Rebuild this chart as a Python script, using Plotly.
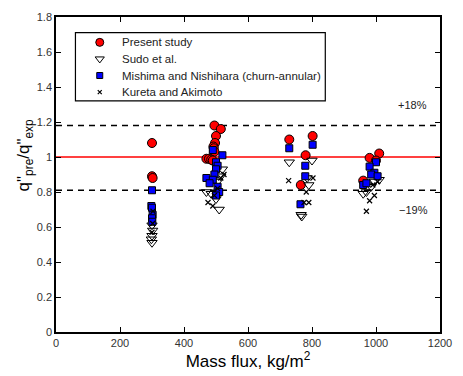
import plotly.graph_objects as go

# Ratio of predicted to experimental CHF versus mass flux, four data sources
present_x = [300, 300, 302, 495, 515, 500, 497, 492, 493, 495, 470, 478, 485, 490,
             729, 802, 780, 765, 1010, 980, 1000, 960]
present_y = [1.08, 0.89, 0.88, 1.18, 1.16, 1.12, 1.08, 1.06, 1.05, 1.03, 0.99, 0.99, 0.985, 0.98,
             1.10, 1.12, 1.01, 0.84, 1.02, 0.995, 0.98, 0.865]

sudo_x = [300, 302, 300, 298, 300, 520, 515, 505, 470, 485, 500, 510,
          729, 800, 785, 790, 766, 768, 1010, 995, 985, 970, 960]
sudo_y = [0.61, 0.58, 0.55, 0.53, 0.51, 0.93, 0.89, 0.86, 0.80, 0.79, 0.76, 0.70,
          0.97, 0.98, 0.88, 0.84, 0.67, 0.66, 0.87, 0.86, 0.83, 0.80, 0.79]

mishima_x = [300, 298, 300, 302, 300, 301, 490, 520, 500, 505, 500, 495, 470, 490, 480, 505, 510, 500,
             729, 802, 779, 779, 764, 1000, 980, 995, 985, 1005, 960, 970]
mishima_y = [0.81, 0.72, 0.71, 0.67, 0.65, 0.63, 1.04, 1.01, 0.97, 0.95, 0.93, 0.90, 0.88, 0.87, 0.85, 0.83, 0.80, 0.78,
             1.05, 1.07, 0.95, 0.89, 0.73, 0.97, 0.945, 0.91, 0.90, 0.89, 0.84, 0.85]

kureta_x = [303, 302, 300, 525, 515, 505, 495, 475, 490,
            727, 803, 782, 790, 775, 1005, 990, 995, 980, 970]
kureta_y = [0.69, 0.62, 0.57, 0.90, 0.88, 0.82, 0.78, 0.74, 0.72,
            0.865, 0.88, 0.80, 0.74, 0.74, 0.86, 0.84, 0.78, 0.75, 0.69]

series_names = ["Present study", "Sudo et al.",
                "Mishima and Nishihara (churn-annular)", "Kureta and Akimoto"]

upper_band = 1.18
lower_band = 0.81
band_labels = ["+18%", "\u221219%"]
band_label_x = [1115, 1118]
band_label_y = [1.30, 0.70]

x_ticks = [0, 200, 400, 600, 800, 1000, 1200]
y_ticks = [0, 0.2, 0.4, 0.6, 0.8, 1.0, 1.2, 1.4, 1.6, 1.8]
y_tick_text = ["0", "0.2", "0.4", "0.6", "0.8", "1", "1.2", "1.4", "1.6", "1.8"]

FONT = "Liberation Sans, Arial, sans-serif"

styles = [
    dict(symbol="circle", size=9, color="#ff0000", line=dict(color="black", width=1)),
    dict(symbol="triangle-down-open", size=9, color="black", line=dict(width=1)),
    dict(symbol="square", size=7, color="#0000ff", line=dict(color="black", width=1)),
    dict(symbol="x-thin", size=5, color="black", line=dict(color="black", width=1.2)),
]

fig = go.Figure()

# Reference lines: perfect agreement and band limits
fig.add_trace(go.Scatter(x=[0, 1200], y=[1.0, 1.0], mode="lines",
                         line=dict(color="#ff0000", width=1.5), showlegend=False, hoverinfo="skip"))
for yb in (upper_band, lower_band):
    fig.add_trace(go.Scatter(x=[0, 1200], y=[yb, yb], mode="lines",
                             line=dict(color="black", width=1.5, dash="6px,5px"),
                             showlegend=False, hoverinfo="skip"))

for (xs, ys), name, st in zip([(present_x, present_y), (sudo_x, sudo_y),
                               (mishima_x, mishima_y), (kureta_x, kureta_y)],
                              series_names, styles):
    fig.add_trace(go.Scatter(x=xs, y=ys, mode="markers", name=name, marker=st,
                             showlegend=False))

for t, xx, yy in zip(band_labels, band_label_x, band_label_y):
    fig.add_annotation(x=xx, y=yy, text=t, showarrow=False,
                       font=dict(family=FONT, size=11, color="#222"))

# Legend box drawn on a pixel-scaled overlay axis
LX0, LX1, LY0, LY1 = 76, 333, 27, 97
KEY_X, TEXT_X = 101, 122
ROW_Y = [37, 54, 71, 88]
fig.add_shape(type="rect", xref="x2", yref="y2", x0=LX0, x1=LX1, y0=LY0, y1=LY1,
              line=dict(color="black", width=1.2), fillcolor="white", layer="below")
for name, st, ry in zip(series_names, styles, ROW_Y):
    key = dict(st)
    key["size"] = key["size"] - 1
    fig.add_trace(go.Scatter(x=[KEY_X], y=[ry], xaxis="x2", yaxis="y2", mode="markers",
                             marker=key, showlegend=False, hoverinfo="skip"))
    fig.add_annotation(xref="x2", yref="y2", x=TEXT_X, y=ry, text=name, showarrow=False,
                       xanchor="left", yanchor="middle",
                       font=dict(family=FONT, size=11.5, color="#222"))

# Y-axis title with subscripts
fig.add_annotation(xref="paper", yref="paper", x=-0.115, y=0.56,
                   text='q"<sub>pre</sub>/q"<sub>exp</sub>', textangle=-90,
                   showarrow=False, font=dict(family=FONT, size=17, color="black"))

axis_common = dict(showgrid=False, zeroline=False, showline=True, linecolor="black",
                   linewidth=1.5, mirror="allticks", ticks="inside", ticklen=5,
                   tickcolor="black", tickwidth=1.2,
                   tickfont=dict(family=FONT, size=11, color="#333"))

fig.update_layout(
    width=463, height=376,
    margin=dict(l=56, r=12, t=11, b=42),
    paper_bgcolor="white", plot_bgcolor="white",
    showlegend=False,
    xaxis=dict(range=[0, 1200], tickvals=x_ticks, **axis_common,
               title=dict(text="Mass flux, kg/m<sup>2</sup>", standoff=4,
                          font=dict(family=FONT, size=17, color="black"))),
    yaxis=dict(range=[0, 1.8], tickvals=y_ticks, ticktext=y_tick_text, **axis_common),
    xaxis2=dict(overlaying="x", range=[56, 451], visible=False, fixedrange=True),
    yaxis2=dict(overlaying="y", range=[334, 11], visible=False, fixedrange=True),
    font=dict(family=FONT),
)

fig.write_html("out.html")
